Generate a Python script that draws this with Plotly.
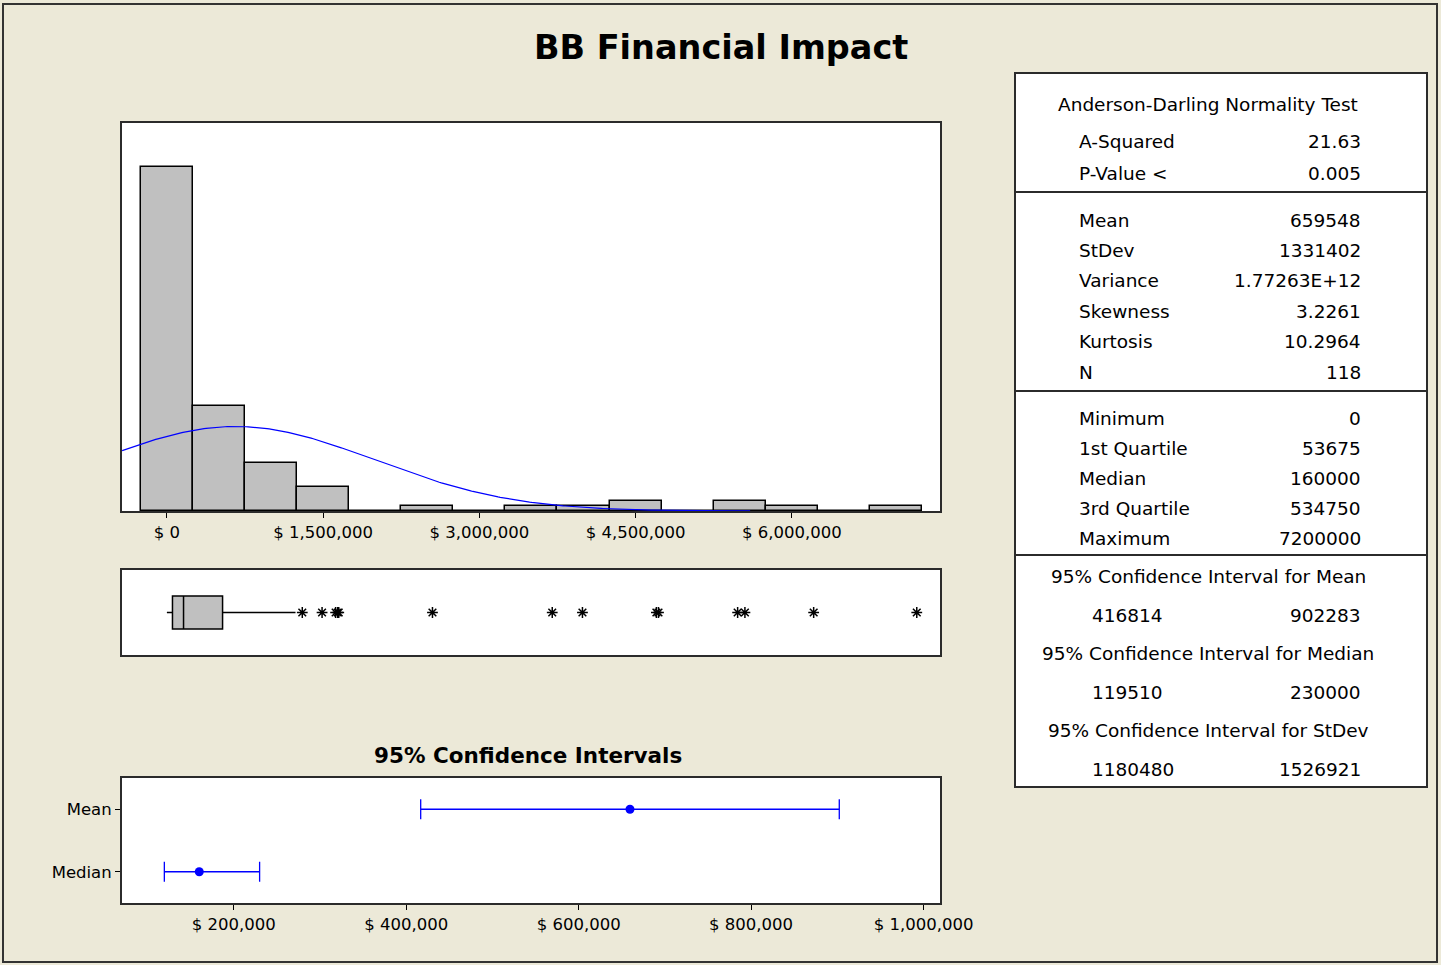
import numpy as np
import plotly.graph_objects as go

W, H = 1441, 965

# ---------------- data ----------------
bin_centers = [0, 500000, 1000000, 1500000, 2000000, 2500000, 3000000, 3500000,
               4000000, 4500000, 5000000, 5500000, 6000000, 6500000, 7000000]
bin_counts = [72, 22, 10, 5, 0, 1, 0, 1, 1, 2, 0, 2, 1, 0, 1]
bin_width = 500000

n_obs = 118
mean_val = 659548
stdev_val = 1331402

q1_val = 53675
median_val = 160000
q3_val = 534750
min_val = 0
whisker_hi = 1235000
outliers = [1300000, 1490000, 1620000, 1640000, 1650000, 2550000, 3700000,
            3990000, 4700000, 4720000, 5480000, 5550000, 6210000, 7200000]

ci_labels = ["Mean", "Median"]
ci_centers = [659548, 160000]
ci_lows = [416814, 119510]
ci_highs = [902283, 230000]

hist_ticks = [0, 1500000, 3000000, 4500000, 6000000]
hist_ticktext = ["$ 0", "$ 1,500,000", "$ 3,000,000", "$ 4,500,000", "$ 6,000,000"]
ci_ticks = [200000, 400000, 600000, 800000, 1000000]
ci_ticktext = ["$ 200,000", "$ 400,000", "$ 600,000", "$ 800,000", "$ 1,000,000"]

ad_labels = ["A-Squared", "P-Value <"]
ad_values = ["21.63", "0.005"]
mom_labels = ["Mean", "StDev", "Variance", "Skewness", "Kurtosis", "N"]
mom_values = ["659548", "1331402", "1.77263E+12", "3.2261", "10.2964", "118"]
q_labels = ["Minimum", "1st Quartile", "Median", "3rd Quartile", "Maximum"]
q_values = ["0", "53675", "160000", "534750", "7200000"]
ci_table_titles = ["95% Confidence Interval for Mean",
                   "95% Confidence Interval for Median",
                   "95% Confidence Interval for StDev"]
ci_table_lows = ["416814", "119510", "1180480"]
ci_table_highs = ["902283", "230000", "1526921"]

# ---------------- helpers ----------------
def px(x):
    return x / W

def py(y):
    return 1 - y / H

BG = "#ECE9D8"
FONT = "DejaVu Sans"
BORDER = "#2b2b2b"
TICKSIZE = 16.5

fig = go.Figure()

# histogram
fig.add_trace(go.Bar(
    x=bin_centers, y=bin_counts, width=bin_width,
    marker=dict(color="#C0C0C0", line=dict(color="black", width=1.5)),
    xaxis="x", yaxis="y", showlegend=False, hoverinfo="skip"))

xs = np.linspace(-430000, 5600000, 300)
ys = n_obs * bin_width * np.exp(-0.5 * ((xs - mean_val) / stdev_val) ** 2) / (stdev_val * np.sqrt(2 * np.pi))
fig.add_trace(go.Scatter(x=xs, y=ys, mode="lines", line=dict(color="#0000FF", width=1.2),
                         xaxis="x", yaxis="y", showlegend=False, hoverinfo="skip"))

# boxplot
fig.add_trace(go.Box(
    q1=[q1_val], median=[median_val], q3=[q3_val], lowerfence=[min_val], upperfence=[whisker_hi],
    y=[0], orientation="h", fillcolor="#C0C0C0", line=dict(color="black", width=1.5),
    width=0.39, whiskerwidth=0, boxpoints=False, xaxis="x2", yaxis="y2", showlegend=False))
fig.add_trace(go.Scatter(
    x=outliers, y=[0] * len(outliers), mode="markers",
    marker=dict(symbol="asterisk-open", size=9, color="black", line=dict(color="black", width=1.5)),
    xaxis="x2", yaxis="y2", showlegend=False))

# confidence intervals
ci_pos = [1, 0]
fig.add_trace(go.Scatter(
    x=ci_centers, y=ci_pos, mode="markers",
    marker=dict(symbol="circle", size=9, color="#0000FF"),
    error_x=dict(type="data", symmetric=False,
                 array=[h - c for h, c in zip(ci_highs, ci_centers)],
                 arrayminus=[c - l for c, l in zip(ci_centers, ci_lows)],
                 color="#0000FF", thickness=1.3, width=10),
    xaxis="x3", yaxis="y3", showlegend=False))

xdom = [px(122), px(940)]
axis_common = dict(showgrid=False, zeroline=False, showline=True, mirror=True,
                   linecolor=BORDER, linewidth=2, automargin=False)

fig.update_layout(
    template="none",
    width=W, height=H, autosize=False,
    margin=dict(l=0, r=0, t=0, b=0, pad=0, autoexpand=False),
    paper_bgcolor=BG, plot_bgcolor="white",
    font=dict(family=FONT, color="black", size=14),
    showlegend=False,
    bargap=0,
    xaxis=dict(domain=xdom, range=[-430900, 7423000], tickvals=hist_ticks, ticktext=hist_ticktext,
               ticks="outside", ticklen=5, tickcolor="black", tickfont=dict(size=TICKSIZE), anchor="y",
               **axis_common),
    yaxis=dict(domain=[py(511), py(123)], range=[0, 81.2], showticklabels=False, ticks="",
               anchor="x", **axis_common),
    xaxis2=dict(domain=xdom, range=[-430900, 7423000], showticklabels=False, ticks="",
                anchor="y2", **axis_common),
    yaxis2=dict(domain=[py(655), py(570)], range=[-0.5, 0.5], showticklabels=False, ticks="",
                anchor="x2", **axis_common),
    xaxis3=dict(domain=xdom, range=[70400, 1019100], tickvals=ci_ticks, ticktext=ci_ticktext,
                ticks="outside", ticklen=5, tickcolor="black", tickfont=dict(size=TICKSIZE), anchor="y3",
                **axis_common),
    yaxis3=dict(domain=[py(903), py(778)], range=[-0.5, 1.5], tickvals=ci_pos, ticktext=ci_labels,
                ticks="outside", ticklen=5, tickcolor="black", tickfont=dict(size=TICKSIZE), anchor="x3",
                **axis_common),
)

shapes = []
annotations = []

# outer border
shapes.append(dict(type="rect", xref="paper", yref="paper", x0=px(3), x1=px(1437), y0=py(962), y1=py(4),
                   line=dict(color="#333333", width=2)))

# titles
annotations.append(dict(text="<b>BB Financial Impact</b>", xref="paper", yref="paper",
                        x=px(721), y=py(47), showarrow=False, xanchor="center", yanchor="middle",
                        font=dict(size=33.5, family=FONT)))
annotations.append(dict(text="<b>95% Confidence Intervals</b>", xref="paper", yref="paper",
                        x=px(528), y=py(755), showarrow=False, xanchor="center", yanchor="middle",
                        font=dict(size=21.5, family=FONT)))

# stats table
tx0, tx1 = 1015, 1427
shapes.append(dict(type="rect", xref="paper", yref="paper", x0=px(tx0), x1=px(tx1), y0=py(787), y1=py(73),
                   line=dict(color=BORDER, width=2), fillcolor="white", layer="below"))
for yy in [192, 391, 555]:
    shapes.append(dict(type="line", xref="paper", yref="paper", x0=px(tx0), x1=px(tx1), y0=py(yy), y1=py(yy),
                       line=dict(color=BORDER, width=2)))

LX, RX, CX = 1077, 1363, 1208
TS = 18.5

def txt(s, x, y, anchor):
    annotations.append(dict(text=s, xref="paper", yref="paper", x=px(x), y=py(y), showarrow=False,
                            xanchor=anchor, yanchor="middle", font=dict(size=TS, family=FONT)))

txt("Anderson-Darling Normality Test", CX, 104, "center")
for i, (l, v) in enumerate(zip(ad_labels, ad_values)):
    txt(l, LX, 142 + 31 * i, "left")
    txt(v, RX, 142 + 31 * i, "right")
for i, (l, v) in enumerate(zip(mom_labels, mom_values)):
    txt(l, LX, 220 + 30.4 * i, "left")
    txt(v, RX, 220 + 30.4 * i, "right")
for i, (l, v) in enumerate(zip(q_labels, q_values)):
    txt(l, LX, 418 + 30 * i, "left")
    txt(v, RX, 418 + 30 * i, "right")
for i, (t, lo, hi) in enumerate(zip(ci_table_titles, ci_table_lows, ci_table_highs)):
    txt(t, CX, 576 + 77 * i, "center")
    txt(lo, 1090, 615 + 77 * i, "left")
    txt(hi, RX, 615 + 77 * i, "right")

fig.update_layout(shapes=shapes, annotations=annotations)
fig.write_html(
    "out.html",
    config={"responsive": False, "displayModeBar": False},
    post_script="document.body.style.margin='0';document.body.style.overflow='hidden';",
)
